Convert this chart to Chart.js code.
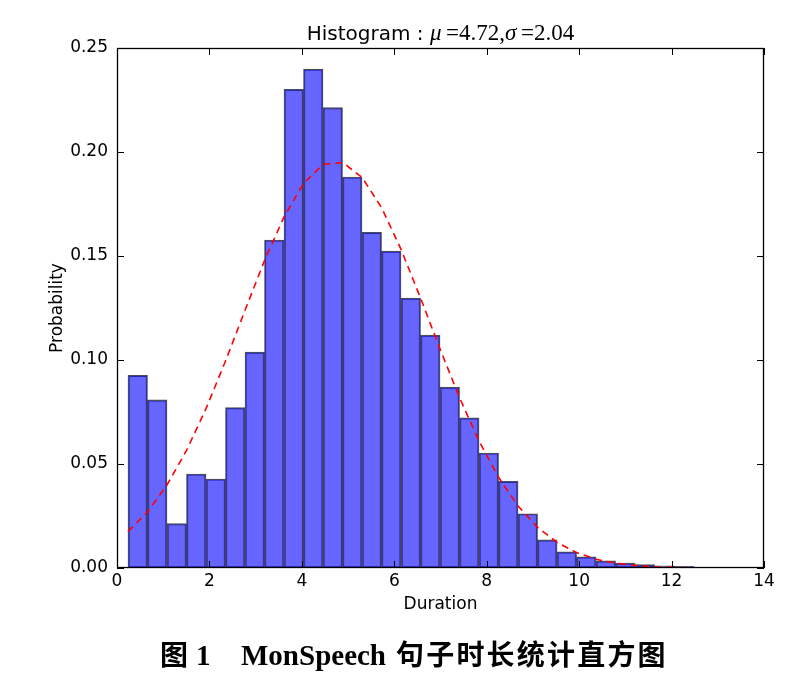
<!DOCTYPE html>
<html>
<head>
<meta charset="utf-8">
<script src="https://cdn.jsdelivr.net/npm/chart.js@4.4.0/dist/chart.umd.min.js"></script>
<style>
  body { margin: 0; background: #fff; }
  #wrap { position: relative; width: 812px; height: 680px; }
  .cap { position: absolute; top: 633px; white-space: nowrap; font-weight: bold; color: #000; }
  .zh { font-family: "Noto Sans CJK SC"; font-size: 28px; font-weight: bold; letter-spacing: 2.2px; }
  .en { font-family: "Liberation Serif"; font-size: 29px; font-weight: bold; top: 639px; }
</style>
</head>
<body>
<div id="wrap">
  <canvas id="histChart" width="812" height="680"></canvas>
  <span class="cap zh" style="left:160px">图</span>
  <span class="cap en" style="left:196px">1</span>
  <span class="cap en" style="left:241px">MonSpeech</span>
  <span class="cap zh" style="left:396px">句子时长统计直方图</span>
</div>
<script>
// histogram bins (Duration)
const binEdges = [0.238, 0.660, 1.082, 1.504, 1.926, 2.348, 2.770, 3.192, 3.614, 4.036,
  4.458, 4.880, 5.302, 5.724, 6.146, 6.568, 6.990, 7.412, 7.834, 8.256,
  8.678, 9.100, 9.522, 9.944, 10.366, 10.788, 11.210, 11.632, 12.054, 12.476, 12.898];
const binProb = [0.0926, 0.0808, 0.0213, 0.0452, 0.0428, 0.0771, 0.1038, 0.1577, 0.2301, 0.2399,
  0.2213, 0.1880, 0.1614, 0.1524, 0.1298, 0.1120, 0.0870, 0.0722, 0.0553, 0.0417,
  0.0261, 0.0135, 0.0078, 0.0054, 0.0034, 0.0024, 0.0016, 0.0011, 0.0008, 0.0003];
// fitted normal curve, read at the bin edges
const fitProb = [0.0175, 0.0270, 0.0399, 0.0565, 0.0766, 0.0995, 0.1239, 0.1478, 0.1688, 0.1849,
  0.1940, 0.1950, 0.1878, 0.1733, 0.1532, 0.1298, 0.1053, 0.0819, 0.0610, 0.0436,
  0.0298, 0.0195, 0.0123, 0.0074, 0.0042, 0.0023, 0.0012, 0.0006, 0.0003, 0.0001, 0.0001];
const xTicks = [0, 2, 4, 6, 8, 10, 12, 14];
const yTicks = [0, 0.05, 0.10, 0.15, 0.20, 0.25];

const axisFont = { family: "DejaVu Sans", size: 17 };

// matplotlib style box with inward ticks on all sides
const framePlugin = {
  id: "frame",
  afterDatasetsDraw(chart) {
    const { ctx, chartArea: a, scales: { x, y } } = chart;
    ctx.save();
    ctx.strokeStyle = "#000";
    ctx.lineWidth = 1;
    ctx.beginPath();
    xTicks.forEach(v => {
      const px = Math.round(x.getPixelForValue(v)) + 0.5;
      ctx.moveTo(px, a.bottom); ctx.lineTo(px, a.bottom - 7);
      ctx.moveTo(px, a.top); ctx.lineTo(px, a.top + 7);
    });
    yTicks.forEach(v => {
      const py = Math.round(y.getPixelForValue(v)) + 0.5;
      ctx.moveTo(a.left, py); ctx.lineTo(a.left + 7, py);
      ctx.moveTo(a.right, py); ctx.lineTo(a.right - 7, py);
    });
    ctx.stroke();
    ctx.lineWidth = 1.3;
    ctx.strokeRect(Math.round(a.left) + 0.5, Math.round(a.top) + 0.5,
      Math.round(a.width) - 1, Math.round(a.height) - 1);
    ctx.restore();
  }
};

// title mixing sans text and math-style serif
const titlePlugin = {
  id: "mathTitle",
  afterDraw(chart) {
    const { ctx, chartArea: a } = chart;
    const parts = [
      { t: "Histogram : ", f: '20px "DejaVu Sans"' },
      { t: "\u03bc", f: 'italic 23px "Liberation Serif"' },
      { t: "\u2009=4.72,", f: '23px "Liberation Serif"' },
      { t: "\u03c3", f: 'italic 23px "Liberation Serif"' },
      { t: "\u2009=2.04", f: '23px "Liberation Serif"' }
    ];
    ctx.save();
    let total = 0;
    parts.forEach(p => { ctx.font = p.f; p.w = ctx.measureText(p.t).width; total += p.w; });
    let cx = (a.left + a.right) / 2 - total / 2;
    ctx.fillStyle = "#000";
    ctx.textBaseline = "alphabetic";
    parts.forEach(p => { ctx.font = p.f; ctx.fillText(p.t, cx, 40); cx += p.w; });
    ctx.restore();
  }
};

new Chart(document.getElementById("histChart"), {
  type: "bar",
  data: {
    datasets: [
      {
        type: "line",
        data: binEdges.map((e, i) => ({ x: e, y: fitProb[i] })),
        borderColor: "#ff0000",
        borderWidth: 1.6,
        borderDash: [7, 5],
        pointRadius: 0,
        tension: 0,
        fill: false,
        order: 0
      },
      {
        data: binProb.map((p, i) => ({ x: (binEdges[i] + binEdges[i + 1]) / 2, y: p })),
        backgroundColor: "rgba(0, 0, 255, 0.6)",
        borderColor: "rgba(0, 0, 30, 0.7)",
        borderWidth: 1.3,
        borderSkipped: false,
        categoryPercentage: 1,
        barPercentage: 1,
        order: 1
      }
    ]
  },
  options: {
    responsive: false,
    animation: false,
    layout: { padding: { top: 48, left: 47, right: 48, bottom: 65 } },
    plugins: { legend: { display: false }, tooltip: { enabled: false }, title: { display: false } },
    scales: {
      x: {
        type: "linear", min: 0, max: 14, offset: false,
        grid: { display: false, drawTicks: false },
        border: { display: false },
        ticks: { stepSize: 2, color: "#000", font: axisFont, padding: 3, maxRotation: 0 },
        title: { display: true, text: "Duration", color: "#000", font: axisFont, padding: 0 },
        afterFit(s) { s.height = 47; }
      },
      y: {
        min: 0, max: 0.25,
        grid: { display: false, drawTicks: false },
        border: { display: false },
        ticks: { stepSize: 0.05, color: "#000", font: axisFont, padding: 9, callback: v => v.toFixed(2) },
        title: { display: true, text: "Probability", color: "#000", font: axisFont, padding: 0 },
        afterFit(s) { s.width = 70; }
      }
    }
  },
  plugins: [framePlugin, titlePlugin]
});
</script>
</body>
</html>
